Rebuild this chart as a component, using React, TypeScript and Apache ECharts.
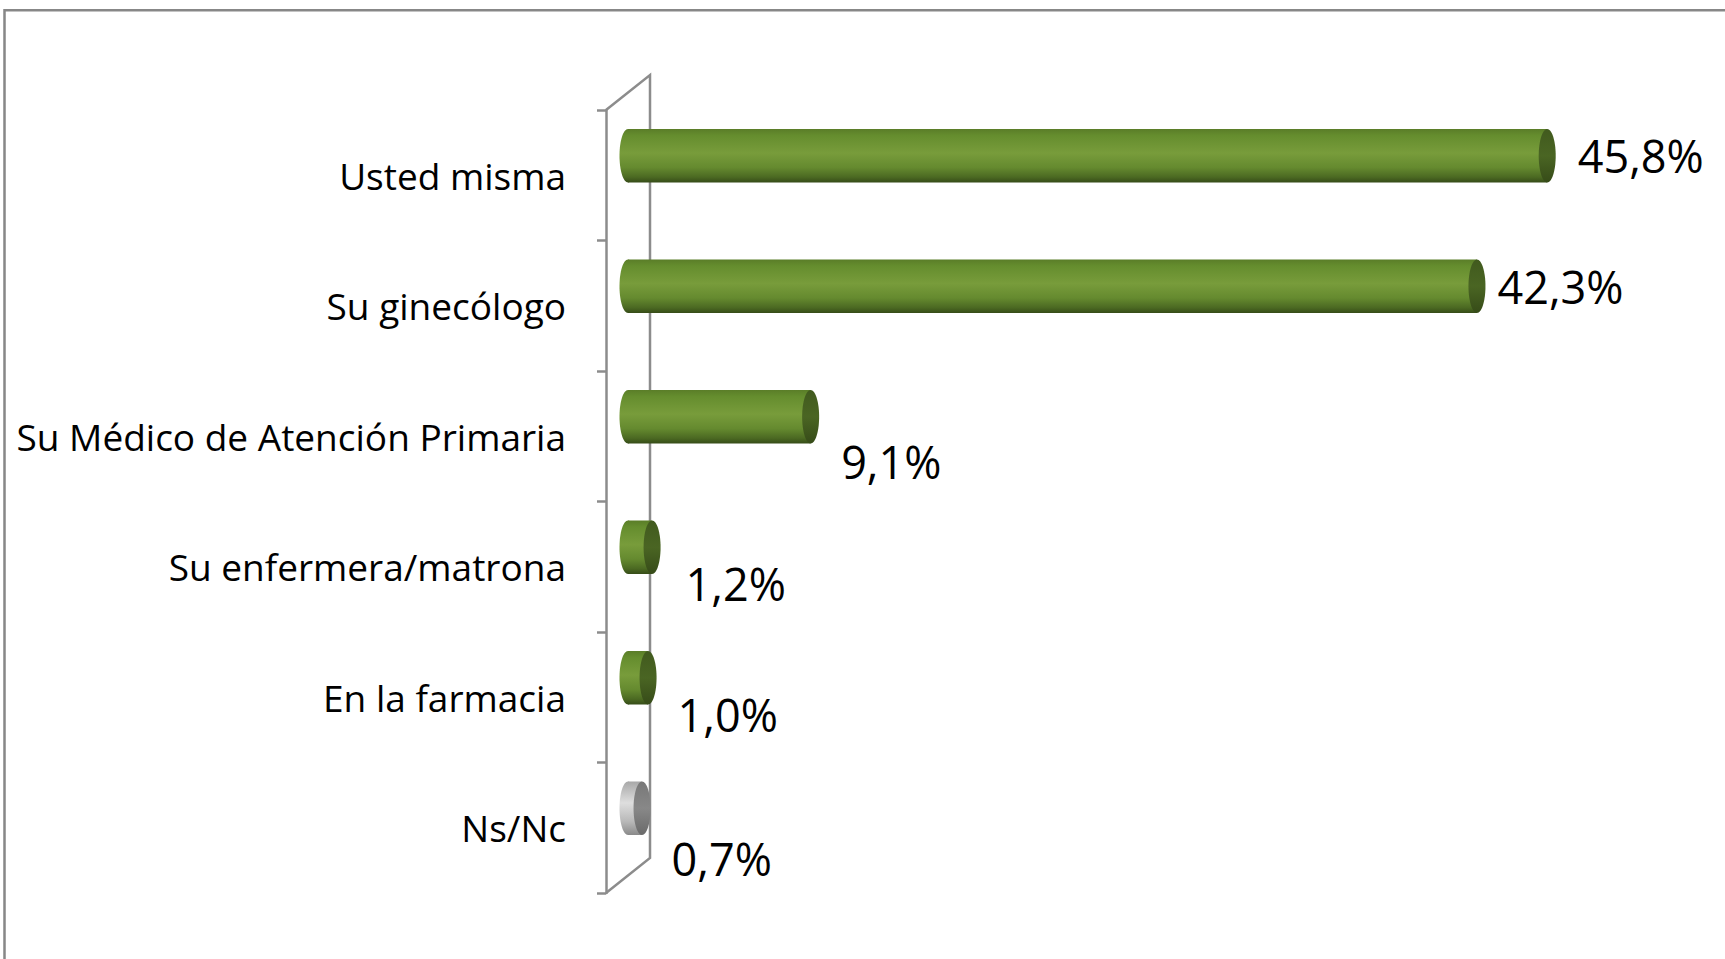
import React, { useEffect, useRef } from "react";
import * as echarts from "echarts";

const categories = [
  "Usted misma",
  "Su ginecólogo",
  "Su Médico de Atención Primaria",
  "Su enfermera/matrona",
  "En la farmacia",
  "Ns/Nc",
];
const values = [45.8, 42.3, 9.1, 1.2, 1.0, 0.7];
const grayCategories = ["Ns/Nc"];

// label placement (style only), relative to bar end / bar centre
const labelDx = [22, 12, 22, 25, 21, 21];
const labelDy = [0, 0, 45, 36, 37, 50];

const GRID_LEFT = 606;
const GRID_TOP = 110;
const GRID_HEIGHT = 783;
const GRID_WIDTH = 1003.5;
const X_MAX = 50;
const DEPTH_X = 44;
const DEPTH_Y = -35;
// bars sit at the middle depth of the 3D wall
const BAR_SHIFT_X = 22;
const BAR_SHIFT_Y = -19.5;
const LINE_COLOR = "#8c8c8c";

const fmt = (v: number) => v.toFixed(1).replace(".", ",") + "%";

export default function App() {
  const ref = useRef<HTMLDivElement>(null);
  useEffect(() => {
    if (!ref.current) return;
    const chart = echarts.init(ref.current, undefined, { renderer: "svg" });
    const wallX = GRID_LEFT;
    const top = GRID_TOP;
    const bottom = GRID_TOP + GRID_HEIGHT;

    const greenBody = () =>
      new echarts.graphic.LinearGradient(0, 0, 0, 1, [
        { offset: 0, color: "#5a7d28" },
        { offset: 0.12, color: "#658d2e" },
        { offset: 0.45, color: "#789c3b" },
        { offset: 0.72, color: "#658a2f" },
        { offset: 0.9, color: "#4b6922" },
        { offset: 1, color: "#364c18" },
      ]);
    const grayBody = () =>
      new echarts.graphic.LinearGradient(0, 0, 0, 1, [
        { offset: 0, color: "#a8a8a8" },
        { offset: 0.4, color: "#dedede" },
        { offset: 0.75, color: "#b8b8b8" },
        { offset: 1, color: "#8a8a8a" },
      ]);
    const greenCap = () =>
      new echarts.graphic.LinearGradient(0, 0, 0, 1, [
        { offset: 0, color: "#415a1e" },
        { offset: 0.5, color: "#4a6523" },
        { offset: 1, color: "#364b18" },
      ]);
    const grayCap = () =>
      new echarts.graphic.LinearGradient(0, 0, 0, 1, [
        { offset: 0, color: "#787878" },
        { offset: 0.5, color: "#888888" },
        { offset: 1, color: "#6a6a6a" },
      ]);

    chart.setOption({
      animation: false,
      backgroundColor: "#ffffff",
      grid: {
        left: GRID_LEFT,
        top: GRID_TOP,
        width: GRID_WIDTH,
        height: GRID_HEIGHT,
        containLabel: false,
      },
      xAxis: {
        type: "value",
        min: 0,
        max: X_MAX,
        show: false,
      },
      yAxis: {
        type: "category",
        data: categories,
        inverse: true,
        axisLine: { show: true, lineStyle: { color: LINE_COLOR, width: 2.5 } },
        axisTick: {
          show: true,
          length: 9,
          inside: false,
          alignWithLabel: false,
          lineStyle: { color: LINE_COLOR, width: 2.5 },
        },
        splitLine: { show: false },
        axisLabel: {
          margin: 40,
          fontSize: 37,
          fontFamily: "Open Sans",
          color: "#000000",
        },
      },
      graphic: [
        {
          type: "rect",
          z: 0,
          shape: { x: 4.5, y: 10.3, width: 1800, height: 1100 },
          style: { fill: "none", stroke: "#878787", lineWidth: 2.5 },
        },
        {
          type: "polyline",
          z: 0,
          shape: {
            points: [
              [wallX, top],
              [wallX + DEPTH_X, top + DEPTH_Y],
              [wallX + DEPTH_X, bottom + DEPTH_Y],
              [wallX, bottom],
            ],
          },
          style: { fill: "none", stroke: LINE_COLOR, lineWidth: 2.5 },
        },
      ],
      series: [
        {
          type: "custom",
          z: 3,
          clip: false,
          encode: { x: 0, y: 1 },
          data: values.map((v, i) => [v, i]),
          renderItem: (params: any, api: any) => {
            const idx = params.dataIndex;
            const v = api.value(0);
            const c = api.value(1);
            const start = api.coord([0, c]);
            const end = api.coord([v, c]);
            const x0 = start[0] + BAR_SHIFT_X;
            const x1 = end[0] + BAR_SHIFT_X;
            const band = api.size([0, 1])[1];
            const h = band * 0.41;
            const yc = start[1] + BAR_SHIFT_Y;
            const gray = grayCategories.includes(categories[idx]);
            const body = gray ? grayBody() : greenBody();
            const cap = gray ? grayCap() : greenCap();
            const rx = 8.5;
            return {
              type: "group",
              children: [
                {
                  type: "ellipse",
                  shape: { cx: x0, cy: yc, rx: rx, ry: h / 2 },
                  style: { fill: body },
                },
                {
                  type: "rect",
                  shape: { x: x0, y: yc - h / 2, width: x1 - x0, height: h },
                  style: { fill: body },
                },
                {
                  type: "ellipse",
                  shape: { cx: x1, cy: yc, rx: rx, ry: h / 2 },
                  style: { fill: cap },
                },
                {
                  type: "text",
                  style: {
                    text: fmt(v),
                    x: x1 + rx + labelDx[idx],
                    y: yc + labelDy[idx],
                    fill: "#000000",
                    fontSize: 45,
                    fontFamily: "Open Sans",
                    align: "left",
                    verticalAlign: "middle",
                  },
                },
              ],
            };
          },
        },
      ],
    });
    return () => chart.dispose();
  }, []);
  return (
    <div
      ref={ref}
      style={{ position: "fixed", left: 0, top: 0, width: 1725, height: 959, background: "#fff" }}
    />
  );
}
